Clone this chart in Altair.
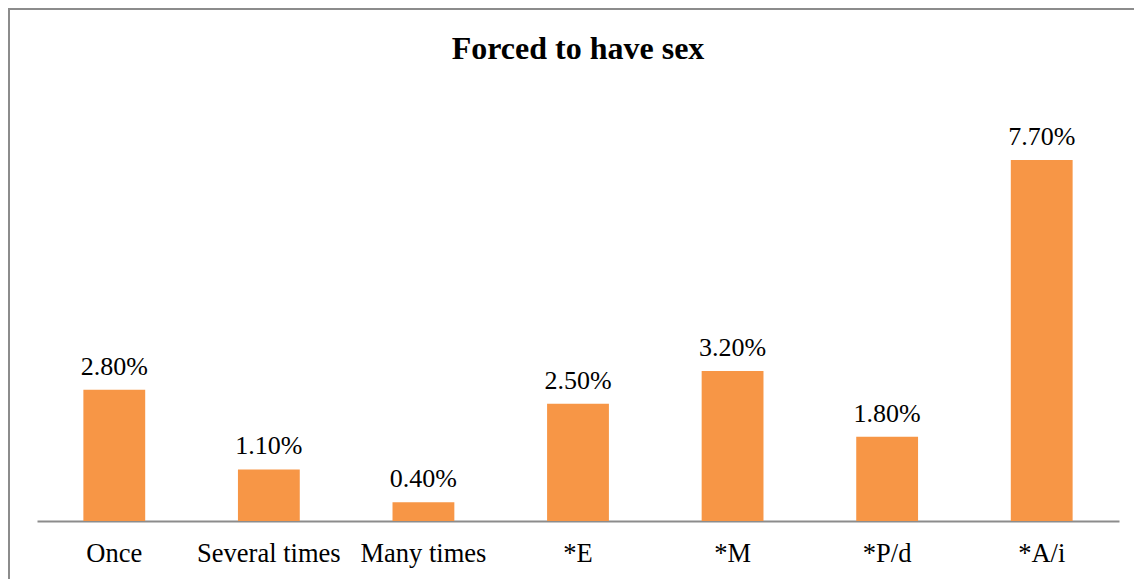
import altair as alt
import pandas as pd

categories = ["Once", "Several times", "Many times", "*E", "*M", "*P/d", "*A/i"]
values = [2.8, 1.1, 0.4, 2.5, 3.2, 1.8, 7.7]
labels = ["2.80%", "1.10%", "0.40%", "2.50%", "3.20%", "1.80%", "7.70%"]
title_text = "Forced to have sex"

df = pd.DataFrame({"cat": categories, "val": values, "lab": labels})

FONT = "Liberation Serif"

x = alt.X("cat:N", sort=categories, title=None,
          scale=alt.Scale(paddingInner=0.6, paddingOuter=0.3),
          axis=alt.Axis(labelAngle=0, ticks=False, domainColor="#8c8c8c", domainWidth=2,
                        labelFont=FONT, labelFontSize=26.5, labelColor="#000000",
                        labelPadding=19))
y = alt.Y("val:Q", title=None, scale=alt.Scale(domain=[0, 8], nice=False), axis=None)

bars = alt.Chart(df).mark_bar(color="#F79646").encode(x=x, y=y)
text = alt.Chart(df).mark_text(font=FONT, fontSize=26, color="#000000", baseline="alphabetic", dy=-15).encode(
    x=alt.X("cat:N", sort=categories), y="val:Q", text="lab:N")

one = pd.DataFrame({"a": [0]})
border = alt.Chart(one).mark_rect(
    fill=None, stroke="#8c8c8c", strokeWidth=2, clip=False).encode(
    x=alt.value(-28), x2=alt.value(1200), y=alt.value(-137), y2=alt.value(600))

title = alt.Chart(one).mark_text(font=FONT, fontSize=32, fontWeight="bold", color="#000000",
                                 baseline="alphabetic", align="center").encode(
    x=alt.value(541), y=alt.value(-87), text=alt.value(title_text))

chart = alt.layer(border, bars, text, title).properties(
    width=1082, height=375,
    autosize=alt.AutoSizeParams(type="none"),
    padding={"left": 29, "top": 138, "right": 15, "bottom": 58},
).configure_view(stroke=None)

chart.save("out.html", embed_options={"renderer": "svg", "actions": False})
